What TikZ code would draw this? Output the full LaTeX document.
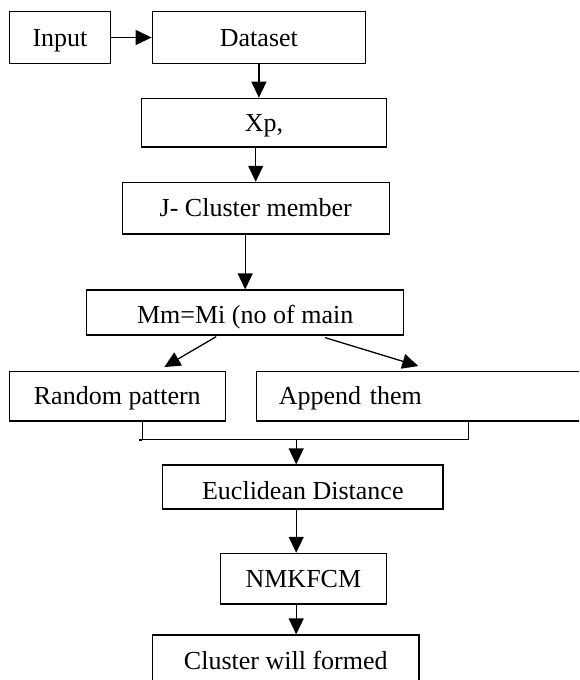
\documentclass[tikz,border=0pt]{standalone}
\usepackage{fontspec}
\setmainfont{Liberation Serif}
\usetikzlibrary{positioning}
\usetikzlibrary{calc}
\usetikzlibrary{arrows.meta}

\begin{document}
\begin{tikzpicture}[x=0.5pt,y=-0.5pt,
  box/.style={draw,line width=0.65pt,rectangle,inner sep=0pt,text height=8.6pt,text depth=0pt,font=\fontsize{13pt}{15pt}\selectfont},
  arr/.style={line width=0.65pt,-{Triangle[length=8pt,width=7.5pt]}}]
\useasboundingbox (0,0) rectangle (579,680);
\clip (0,0) rectangle (579,680);

\node[box,minimum width=50.8pt,minimum height=25.8pt](input) at (60,37.5){Input};
\node[box,minimum width=106.7pt,minimum height=25.8pt](dataset) at (258.9,37.5){Dataset};
\node[box,minimum width=122.6pt,minimum height=24.4pt](xp) at (264,122.7){Xp,};
\node[box,minimum width=133.5pt,minimum height=25.8pt](member) at (255.7,208.2){J- Cluster member};
\node[box,minimum width=158.4pt,minimum height=22.5pt,text height=11.1pt](main) at (245.2,312.5){Mm=Mi (no of main};
\node[box,minimum width=108pt,minimum height=24.6pt](random) at (117.3,396.3){Random pattern};
\node[box,minimum height=24.6pt,text width=159.5pt,inner xsep=11.1pt,align=left](append) at (438.3,396.3){Append them};
\node[box,minimum width=140.3pt,minimum height=22pt,text height=12.3pt](euclid) at (302.8,487){Euclidean Distance};
\node[box,minimum width=83.2pt,minimum height=25.3pt](nmkfcm) at (303.4,578.7){NMKFCM};
\node[box,minimum width=133.3pt,minimum height=26pt](cluster) at (285.8,661){Cluster will formed};

\coordinate(merge) at (296.2,439.3);

\draw[arr](input)--(dataset);
\draw[arr](dataset.south)--(dataset.south |- xp.north);
\draw[arr](xp.south -| member.north)--(member.north);
\draw[arr](member.south -| main.north)--(main.north);
\draw[arr]($(main.south)+(-29,1)$)--($(random.north)+(47,-4)$);
\draw[arr]($(main.south)+(80,2)$)--($(append.north)+(-20,-5)$);

\draw[line width=0.65pt]($(random.south)+(25,0)$) |- (merge) -| ($(append.south west)+(212.4,0)$);
\draw[line width=0.65pt]($(random.south)+(25,18.3)$)--++(-3.7,0);
\draw[arr](merge)--(merge |- euclid.north);
\draw[arr](euclid.south -| merge)--(nmkfcm.north -| merge);
\draw[arr](nmkfcm.south -| merge)--(cluster.north -| merge);
\end{tikzpicture}
\end{document}
